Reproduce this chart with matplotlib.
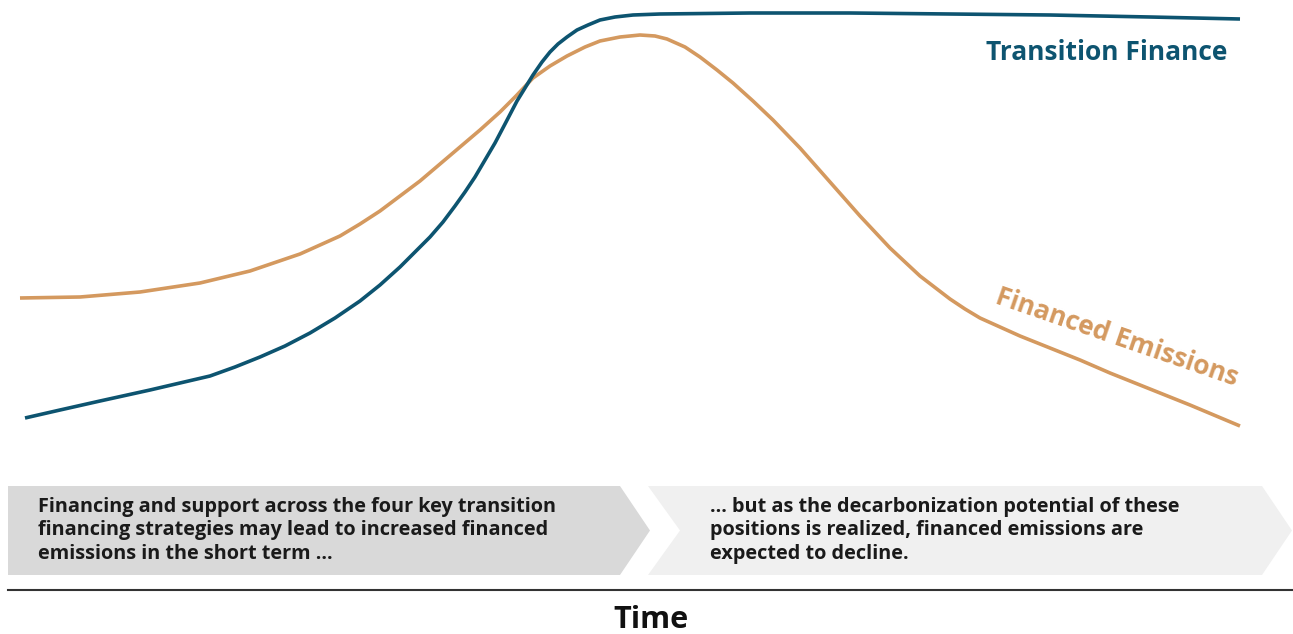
import matplotlib.pyplot as plt
from matplotlib.patches import Polygon

# curve points (x = time, y = pixel height from top)
finance_x = [25, 60, 100, 150, 210, 235, 260, 285, 310, 335, 360, 380, 400, 415, 430, 443,
             455, 465, 475, 485, 495, 505, 517, 525, 533, 542, 550, 558, 567, 577, 588, 600,
             615, 633, 660, 750, 850, 950, 1050, 1150, 1240]
finance_y = [418, 410, 401, 390, 376, 367, 357, 346, 333, 318, 301, 285, 267, 252, 237, 222,
             206, 192, 177, 160, 143, 124, 101, 88, 75, 62, 52, 44, 37, 30, 25, 20,
             17, 15, 14, 13, 13, 14, 15, 17, 19]

emis_x = [20, 80, 140, 200, 250, 300, 340, 360, 380, 400, 420, 440, 460, 480, 500, 516,
          533, 550, 567, 585, 600, 620, 640, 655, 667, 685, 700, 717, 733, 753, 773, 800,
          830, 860, 890, 920, 950, 965, 980, 1000, 1020, 1050, 1080, 1110, 1140, 1190, 1240]
emis_y = [298, 297, 292, 283, 271, 254, 236, 224, 211, 196, 181, 164, 147, 130, 112, 96,
          78, 66, 56, 47, 41, 37, 35, 36, 39, 47, 57, 70, 83, 101, 120, 148,
          182, 216, 248, 276, 299, 309, 318, 327, 336, 348, 360, 373, 385, 405, 426]

label_finance = "Transition Finance"
label_emis = "Financed Emissions"
box_left_text = ("Financing and support across the four key transition\n"
                 "financing strategies may lead to increased financed\n"
                 "emissions in the short term ...")
box_right_text = ("... but as the decarbonization potential of these\n"
                  "positions is realized, financed emissions are\n"
                  "expected to decline.")
axis_label = "Time"

teal = "#0d5470"
tan = "#d4995f"

plt.rcParams['font.family'] = ['Open Sans', 'DejaVu Sans']

fig = plt.figure(figsize=(12.93, 6.34), dpi=100)
ax = fig.add_axes([0, 0, 1, 1])
ax.set_xlim(0, 1293)
ax.set_ylim(634, 0)
ax.axis('off')

ax.plot(emis_x, emis_y, color=tan, lw=2.6, solid_capstyle='butt', solid_joinstyle='round')
ax.plot(finance_x, finance_y, color=teal, lw=2.6, solid_capstyle='butt', solid_joinstyle='round')

ax.text(1107, 53, label_finance, color=teal, fontsize=19, fontweight='bold',
        ha='center', va='center')
ax.text(1117, 337, label_emis, color=tan, fontsize=19, fontweight='bold',
        ha='center', va='center', rotation=-19, rotation_mode='anchor')

# chevron boxes
top, bot = 486, 575
mid = (top + bot) / 2
left_box = Polygon([(8, top), (620, top), (650, mid), (620, bot), (8, bot)],
                   closed=True, facecolor='#d9d9d9', edgecolor='none')
right_box = Polygon([(648, top), (1262, top), (1292, mid), (1262, bot), (648, bot), (680, mid)],
                    closed=True, facecolor='#f0f0f0', edgecolor='none')
ax.add_patch(left_box)
ax.add_patch(right_box)

ax.text(38, mid, box_left_text, fontsize=14.3, fontweight='bold', color='#1a1a1a',
        ha='left', va='center', linespacing=1.25)
ax.text(710, mid, box_right_text, fontsize=14.3, fontweight='bold', color='#1a1a1a',
        ha='left', va='center', linespacing=1.25)

ax.plot([8, 1293], [590, 590], color='#333333', lw=1.5)
ax.text(651, 620, axis_label, fontsize=22, fontweight='bold', color='#111111',
        ha='center', va='center')

fig.savefig('out.png', dpi=100)
